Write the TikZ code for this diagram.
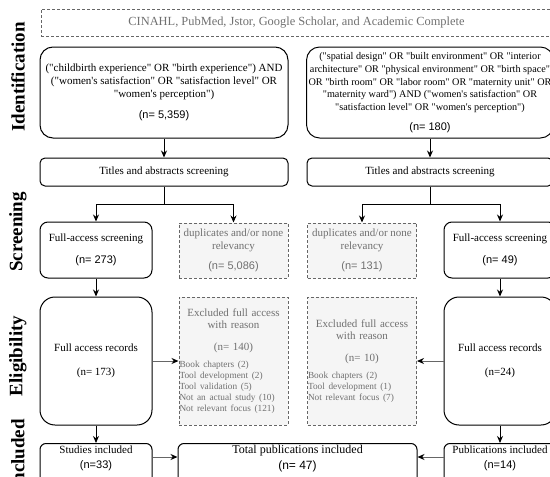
\documentclass[tikz,border=0pt]{standalone}
\usepackage{fontspec}
\setmainfont{Liberation Serif}[Ligatures=TeXOff]
\setsansfont{Liberation Sans}
\usetikzlibrary{arrows.meta}
\definecolor{greyline}{HTML}{666666}
\definecolor{greyfill}{HTML}{F5F5F5}
\definecolor{greytext}{HTML}{707070}
\tikzset{
  box/.style={draw, line width=1pt, align=center, inner sep=2pt,
    font=\fontsize{11}{12.7}\selectfont},
  querybox/.style={box, rounded corners=13pt, minimum height=91pt},
  titlebox/.style={box, rounded corners=5pt, minimum height=28pt},
  fullbox/.style={box, rounded corners=8pt, minimum width=112pt, minimum height=56pt},
  recbox/.style={box, rounded corners=15pt, minimum width=112pt, minimum height=128pt},
  inclbox/.style={box, rounded corners=6pt, minimum width=112pt, anchor=north},
  greybox/.style={box, draw=greyline, fill=greyfill, text=greytext,
    dash pattern=on 3pt off 2pt, minimum width=109pt},
  dbbox/.style={box, draw=greyline, text=greytext, dash pattern=on 3pt off 2pt,
    minimum width=511pt, minimum height=27pt, font=\fontsize{12.4}{14}\selectfont},
  exclbox/.style={greybox, minimum height=128pt, text width=108pt, inner xsep=0.5pt},
  phase/.style={rotate=90, font=\fontsize{19}{19}\selectfont\bfseries},
  arr/.style={line width=1pt, -{Stealth[length=7pt,width=6pt]}},
  garr/.style={line width=1pt, draw=greyline, -{Stealth[length=7pt,width=6pt,color=black]}},
  lin/.style={line width=1pt}
}
\newcommand{\exlist}{\fontsize{9.3}{11}\selectfont}
\begin{document}
\begin{tikzpicture}[x=1pt,y=-1pt]
            \useasboundingbox (0,0) rectangle (550,477);
            \clip (0,0) rectangle (550,477);
            \node[phase] (pId) at (18,77) {Identification};
            \node[phase] (pSc) at (18,232) {Screening};
            \node[phase] (pEl) at (18,356) {Eligibility};
            \node[phase] (pIn) at (18,455) {Included};
            \node[dbbox] (db) at (296.5,22.5) {CINAHL, PubMed, Jstor, Google Scholar, and Academic Complete};
            \node[querybox, minimum width=248pt] (qA) at (164,92.5)
              {("childbirth experience" OR "birth experience") AND\\
               ("women's satisfaction" OR "satisfaction level" OR\\
               "women's perception")\\[9pt]
               {\sffamily (n= 5,359)}};
            \node[querybox, minimum width=246pt, font=\fontsize{10.2}{12.8}\selectfont] (qB) at (430,92.5)
              {("spatial design" OR "built environment" OR "interior\\
               architecture" OR "physical environment" OR "birth space"\\
               OR "birth room" OR "labor room" OR "maternity unit" OR\\
               "maternity ward") AND ("women's satisfaction" OR\\
               "satisfaction level" OR "women's perception")\\[7pt]
               {\sffamily\fontsize{11}{12.7}\selectfont (n= 180)}};
            \node[titlebox, minimum width=248pt] (tA) at (164,172) {Titles and abstracts screening};
            \node[titlebox, minimum width=246pt] (tB) at (430,172) {Titles and abstracts screening};
            \node[fullbox] (fA) at (96,250) {Full-access screening\\[9pt]{\sffamily (n= 273)}};
            \node[greybox, minimum height=55pt] (dA) at (233.5,250.5)
              {duplicates and/or none\\relevancy\\[8pt]{\sffamily (n= 5,086)}};
            \node[greybox, minimum height=55pt] (dB) at (362,250.5)
              {duplicates and/or none\\relevancy\\[8pt]{\sffamily (n= 131)}};
            \node[fullbox] (fB) at (500,250) {Full-access screening\\[9pt]{\sffamily (n= 49)}};
            \node[recbox] (rA) at (96,361) {Full access records\\[12pt](n= 173)};
            \node[exclbox] (eA) at (233.5,361)
              {\parindent=0pt\centering Excluded full access\\with reason\\[9pt](n= 140)\par
               \vspace{6pt}\raggedright\exlist Book chapters (2)\\Tool development (2)\\
               Tool validation (5)\\Not an actual study (10)\\Not relevant focus (121)\par};
            \node[exclbox] (eB) at (362,361)
              {\parindent=0pt\centering Excluded full access\\with reason\\[9pt](n= 10)\par
               \vspace{6pt}\raggedright\exlist Book chapters (2)\\Tool development (1)\\
               Not relevant focus (7)\par};
            \node[recbox] (rB) at (500,361) {Full access records\\[12pt](n=24)};
            \node[inclbox] (sA) at (96,443) {Studies included\\[3pt]{\sffamily (n=33)}\\\rule{0pt}{30pt}};
            \node[inclbox, minimum width=239pt, font=\fontsize{12}{13}\selectfont] (tot) at (297.5,443)
              {Total publications included\\[3pt]{\sffamily (n= 47)}\\\rule{0pt}{30pt}};
            \node[inclbox] (pB) at (500,443) {Publications included\\[3pt]{\sffamily (n=14)}\\\rule{0pt}{30pt}};
            \coordinate (splA) at (164,204);
            \coordinate (splB) at (430,204);
            \draw[arr] (qA.south) -- (tA.north);
            \draw[arr] (qB.south) -- (tB.north);
            \draw[lin] (tA.south) -- (splA);
            \draw[arr] (splA) -| (fA.north);
            \draw[arr] (splA) -| (dA.north);
            \draw[lin] (tB.south) -- (splB);
            \draw[arr] (splB) -| (dB.north);
            \draw[arr] (splB) -| (fB.north);
            \draw[arr] (fA.south) -- (rA.north);
            \draw[arr] (fB.south) -- (rB.north);
            \draw[garr] (rA.east) -- (eA.west);
            \draw[garr] (rB.west) -- (eB.east);
            \draw[arr] (rA.south) -- (sA.north);
            \draw[arr] (rB.south) -- (pB.north);
            \draw[garr] ([yshift=-14pt]sA.north east) -- ([yshift=-14pt]tot.north west);
            \draw[garr] ([yshift=-14pt]pB.north west) -- ([yshift=-14pt]tot.north east);
        \end{tikzpicture}
\end{document}
